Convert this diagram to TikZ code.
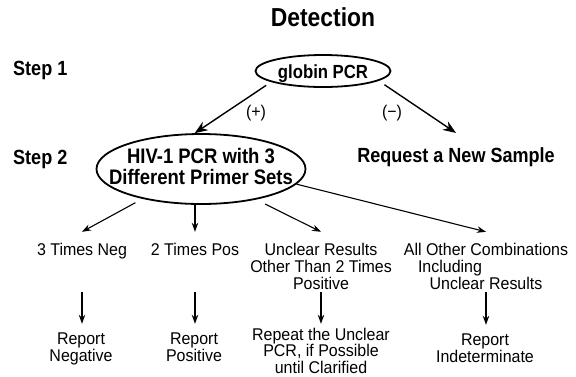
\documentclass[tikz,border=0pt]{standalone}
\usepackage{fontspec}
\setmainfont{Liberation Sans}[FakeStretch=0.94]
\newfontfamily\boldcond{Liberation Sans}[FakeStretch=0.88]
\usetikzlibrary{arrows.meta,shapes.geometric}
\newcommand{\mlines}[1]{\begin{tabular}[t]{@{}c@{}}#1\end{tabular}}
\begin{document}
\begin{tikzpicture}[x=1pt,y=-1pt,
  txt/.style={font=\fontsize{17}{16.5}\selectfont, inner sep=0pt},
  rowone/.style={txt, text height=23pt, text depth=37pt, anchor=base},
  rowtwo/.style={txt, text height=20pt, anchor=base},
  bld/.style={font=\boldcond\fontsize{#1}{#1}\selectfont\bfseries, inner sep=0pt, anchor=base},
  oval/.style={ellipse, draw, line width=1.8pt, inner sep=0pt},
  bigarr/.style={-{Stealth[length=13pt,width=10pt]}, line width=1.4pt},
  smallarr/.style={-{Stealth[length=9pt,width=6.5pt]}, line width=1.1pt}]
\useasboundingbox (0,0) rectangle (576,376);
\fill[white] (0,0) rectangle (576,376);

% titles and step labels
\node[bld=26] (title) at (323,26) {Detection};
\node[bld=20.5, anchor=base west] (step1) at (13,75) {Step 1};
\node[bld=20.5, anchor=base west] (step2) at (13,164) {Step 2};

% step 1
\node[oval, minimum width=135pt, minimum height=32pt,
      font=\boldcond\fontsize{19}{19}\selectfont\bfseries, text height=18pt, text depth=4pt]
      (globin) at (323,71) {globin PCR};
\node[txt, anchor=base] (plus) at (256,117) {(+)};
\node[txt, anchor=base] (minus) at (392,117) {(−)};

% step 2
\node[oval, minimum width=209pt, minimum height=70pt] (hiv) at (201,169) {};
\node[bld=21, font=\boldcond\fontsize{21}{20}\selectfont\bfseries] (hivtxt) at (201,163)
      {\mlines{HIV-1 PCR with 3\\Different Primer Sets}};
\node[bld=20.5, inner ysep=14pt] (req) at (456,162) {Request a New Sample};

\draw[bigarr, shorten <=6pt] (globin.192) -- (hiv.100);
\draw[bigarr, shorten <=7pt] (globin.-10) -- (req.north);

% results row
\node[rowone] (neg) at (82,255) {3 Times Neg};
\node[rowone] (pos) at (195,255) {2 Times Pos};
\node[rowone] (uncl) at (321,255) {\mlines{Unclear Results\\Other Than 2 Times\\Positive}};
\node[rowone] (other) at (486,255) {\mlines{All Other Combinations\\Including\hspace*{72pt}\\Unclear Results}};

\draw[smallarr, shorten <=8pt] (hiv.207) -- (neg.north);
\draw[smallarr] (pos.north |- hiv.south) -- (pos.north);
\draw[smallarr, shorten <=10pt] (hiv.331) -- (uncl.north);
\draw[smallarr] (hiv.-9) -- (other.north);

% reports row
\node[rowtwo] (repneg) at (81,344) {\mlines{Report\\Negative}};
\node[rowtwo] (reppos) at (194,344) {\mlines{Report\\Positive}};
\node[rowtwo, font=\fontsize{17}{14}\selectfont, text height=16pt, text depth=29pt] (repeat) at (321,340)
      {\mlines{Repeat the Unclear\\PCR, if Possible\\until Clarified}};
\node[rowtwo] (repind) at (485,345) {\mlines{Report\\Indeterminate}};

\draw[smallarr] (neg.south) -- (neg.south |- repneg.north);
\draw[smallarr] (pos.south) -- (pos.south |- reppos.north);
\draw[smallarr] (uncl.south) -- (uncl.south |- repeat.north);
\draw[smallarr] (other.south) -- (other.south |- repind.north);
\end{tikzpicture}
\end{document}
